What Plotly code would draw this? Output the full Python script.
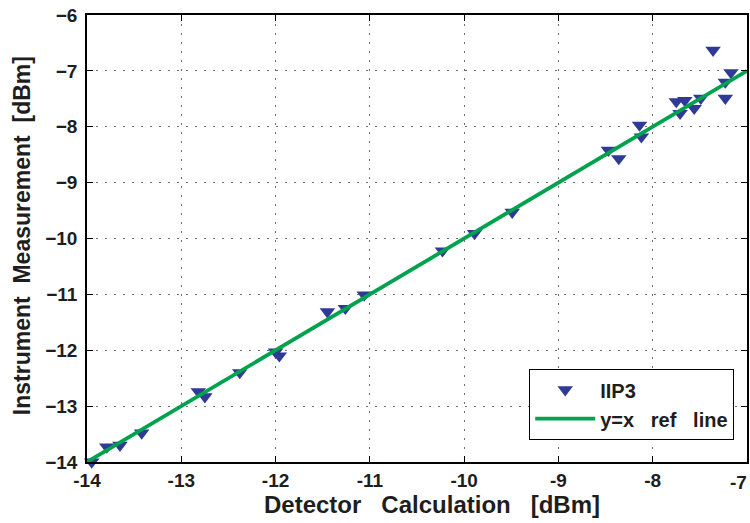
import plotly.graph_objects as go

# Detector-calculated vs instrument-measured IIP3 values [dBm]
detector_dbm = [-13.95, -13.79, -13.65, -13.42, -12.82, -12.75, -12.38, -12.00, -11.96,
                -11.45, -11.26, -11.06, -10.23, -9.89, -9.49,
                -8.47, -8.36, -8.14, -8.12, -7.75, -7.66, -7.71, -7.56, -7.49,
                -7.23, -7.23, -7.17, -7.36]
instrument_dbm = [-14.00, -13.73, -13.70, -13.48, -12.74, -12.83, -12.40, -12.03, -12.10,
                  -11.31, -11.25, -11.01, -10.22, -9.91, -9.53,
                  -8.42, -8.57, -7.97, -8.18, -7.55, -7.53, -7.76, -7.67, -7.49,
                  -7.49, -7.20, -7.03, -6.63]

# y = x reference line endpoints
ref_x = [-14, -7]
ref_y = [-14, -7]

x_ticks = [-14, -13, -12, -11, -10, -9, -8, -7]
y_ticks = [-14, -13, -12, -11, -10, -9, -8, -7, -6]

FONT = "Liberation Sans, Arial, sans-serif"
NB = "\u00a0"
TXT = "#1e1e1e"

fig = go.Figure()
fig.add_trace(go.Scatter(
    x=detector_dbm, y=instrument_dbm, mode="markers", name="IIP3",
    marker=dict(symbol="triangle-down", size=13.5, color="#2f3a96",
                line=dict(width=0)),
    cliponaxis=False,
))
fig.add_trace(go.Scatter(
    x=ref_x, y=ref_y, mode="lines", name=f"y=x{NB*3}ref{NB*3}line",
    line=dict(color="#00a24e", width=3.8),
))

axis_common = dict(
    showline=True, linecolor="black", linewidth=1.5, mirror="ticks",
    ticks="inside", ticklen=6, tickcolor="black", tickwidth=1,
    showgrid=True, gridcolor="#6f6f6f", griddash="2px,7px", gridwidth=1,
    zeroline=False,
    tickfont=dict(family=FONT, size=19, color=TXT, weight="bold"),
)

# the last x label sits flush with the right edge, drawn separately below
x_labels = [str(v) for v in x_ticks[:-1]] + [""]
fig.update_xaxes(range=[-14, -7], tickvals=x_ticks, ticktext=x_labels,
                 ticklabelstandoff=0, **axis_common)
fig.update_yaxes(range=[-14, -6], tickvals=y_ticks, ticklabelstandoff=4, **axis_common)

fig.add_annotation(
    text=str(x_ticks[-1]), xref="x", yref="paper", x=x_ticks[-1], y=0,
    xanchor="right", yanchor="top", xshift=2, yshift=-8, showarrow=False,
    font=dict(family=FONT, size=19, color=TXT, weight="bold"),
)
fig.add_annotation(
    text=f"Detector{NB*3}Calculation{NB*3}[dBm]", xref="paper", yref="paper",
    x=(433 - 87) / 662, y=-(505 - 462) / 447, showarrow=False,
    xanchor="center", yanchor="middle",
    font=dict(family=FONT, size=24, color=TXT, weight="bold"),
)
fig.add_annotation(
    text=f"Instrument{NB*2}Measurement{NB*2}[dBm]", xref="paper", yref="paper",
    x=-(87 - 22) / 662, y=(462 - 236) / 447, showarrow=False, textangle=-90,
    xanchor="center", yanchor="middle",
    font=dict(family=FONT, size=23, color=TXT, weight="bold"),
)

fig.update_layout(
    width=750, height=523,
    margin=dict(l=87, r=1, t=15, b=61),
    paper_bgcolor="white", plot_bgcolor="white",
    showlegend=True,
    legend=dict(
        x=(736 - 87) / 662, y=(462 - 440) / 447, xanchor="right", yanchor="bottom",
        bgcolor="white", bordercolor="black", borderwidth=1.2,
        font=dict(family=FONT, size=20, color=TXT, weight="bold"),
        itemwidth=60, tracegroupgap=2,
    ),
)

fig.write_html("out.html")
